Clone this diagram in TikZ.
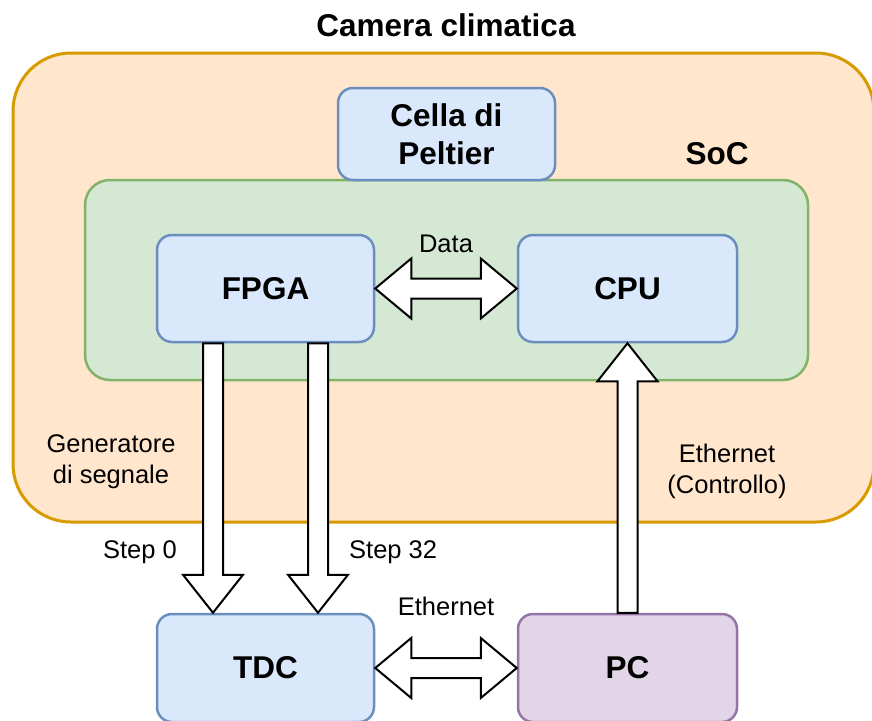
\documentclass[tikz,border=0pt]{standalone}
\usepackage{fontspec}
\setmainfont{Liberation Sans}
\usetikzlibrary{calc}

\definecolor{orfill}{HTML}{FFE6CC}
\definecolor{ordraw}{HTML}{D79B00}
\definecolor{grfill}{HTML}{D5E8D4}
\definecolor{grdraw}{HTML}{82B366}
\definecolor{blfill}{HTML}{DAE8FC}
\definecolor{bldraw}{HTML}{6C8EBF}
\definecolor{pufill}{HTML}{E1D5E7}
\definecolor{pudraw}{HTML}{9673A6}

\tikzset{
  boxbase/.style={rounded corners=15pt, line width=2.5pt, align=center,
    font=\fontsize{31.5}{36}\selectfont\bfseries, inner sep=0pt},
  bluebox/.style={boxbase, fill=blfill, draw=bldraw},
  purplebox/.style={boxbase, fill=pufill, draw=pudraw},
  lbl/.style={font=\fontsize{25.5}{31}\selectfont, align=center, inner sep=0pt},
  ttl/.style={font=\fontsize{31.5}{36}\selectfont\bfseries, inner sep=0pt},
  fatarrow/.style={draw=black, fill=white, line width=2pt, line join=miter},
}

\begin{document}
\begin{tikzpicture}[x=1pt, y=-1pt]
\useasboundingbox (0,0) rectangle (872,720);
\clip (0,0) rectangle (872,720);

% climate chamber
\draw[fill=orfill, draw=ordraw, line width=3pt, rounded corners=58pt]
  (13,53) rectangle (874,522);
\node[ttl] (title) at (446,25) {Camera climatica};

% SoC container
\draw[fill=grfill, draw=grdraw, line width=2.5pt, rounded corners=25pt]
  (85,180) rectangle (808,380);
\node[ttl] (soclbl) at (717,154) {SoC};

% blocks
\node[bluebox, minimum width=217pt, minimum height=92pt] (peltier) at (446.5,134) {Cella di\\[2pt]Peltier};
\node[bluebox, minimum width=217pt, minimum height=107pt] (fpga) at (265.5,288.5) {FPGA};
\node[bluebox, minimum width=219pt, minimum height=107pt] (cpu) at (627.5,288.5) {CPU};
\node[bluebox, minimum width=217pt, minimum height=108pt] (tdc) at (265.5,668) {TDC};
\node[purplebox, minimum width=219pt, minimum height=108pt] (pc) at (627.5,668) {PC};

% FPGA <-> CPU
\draw[fatarrow] (fpga.east) -- ++(36,-30) -- ++(0,20)
  -- ($(cpu.west)+(-36,-10)$) -- ++(0,-20) -- (cpu.west)
  -- ++(-36,30) -- ++(0,-20) -- ($(fpga.east)+(36,10)$) -- ++(0,20) -- cycle;
\node[lbl] (datalbl) at (446,244) {Data};

% TDC <-> PC
\draw[fatarrow] (tdc.east) -- ++(36,-30) -- ++(0,20)
  -- ($(pc.west)+(-36,-10)$) -- ++(0,-20) -- (pc.west)
  -- ++(-36,30) -- ++(0,-20) -- ($(tdc.east)+(36,10)$) -- ++(0,20) -- cycle;
\node[lbl] (ethlbl) at (446,606) {Ethernet};

% FPGA -> TDC, two signal lines
\coordinate (s0a) at ($(fpga.south)+(-52.5,0)$);
\coordinate (s0b) at ($(tdc.north)+(-52.5,0)$);
\coordinate (s32a) at ($(fpga.south)+(52.5,0)$);
\coordinate (s32b) at ($(tdc.north)+(52.5,0)$);
\foreach \p/\q in {s0a/s0b, s32a/s32b}{
  \draw[fatarrow] ($(\p)+(-10,0)$) -- ($(\q)+(-10,-38)$) -- ($(\q)+(-30,-38)$)
    -- (\q) -- ($(\q)+(30,-38)$) -- ($(\q)+(10,-38)$) -- ($(\p)+(10,0)$) -- cycle;
}
\node[lbl, anchor=east] (step0) at (177,552) {Step 0};
\node[lbl, anchor=west] (step32) at (349,552) {Step 32};
\node[lbl] (genlbl) at (111,462) {Generatore\\di segnale};

% PC -> CPU
\draw[fatarrow] ($(pc.north)+(-10,0)$) -- ($(cpu.south)+(-10,38)$) -- ($(cpu.south)+(-30,38)$)
  -- (cpu.south) -- ($(cpu.south)+(30,38)$) -- ($(cpu.south)+(10,38)$) -- ($(pc.north)+(10,0)$) -- cycle;
\node[lbl] (ctrllbl) at (727,471) {Ethernet\\(Controllo)};
\end{tikzpicture}
\end{document}
